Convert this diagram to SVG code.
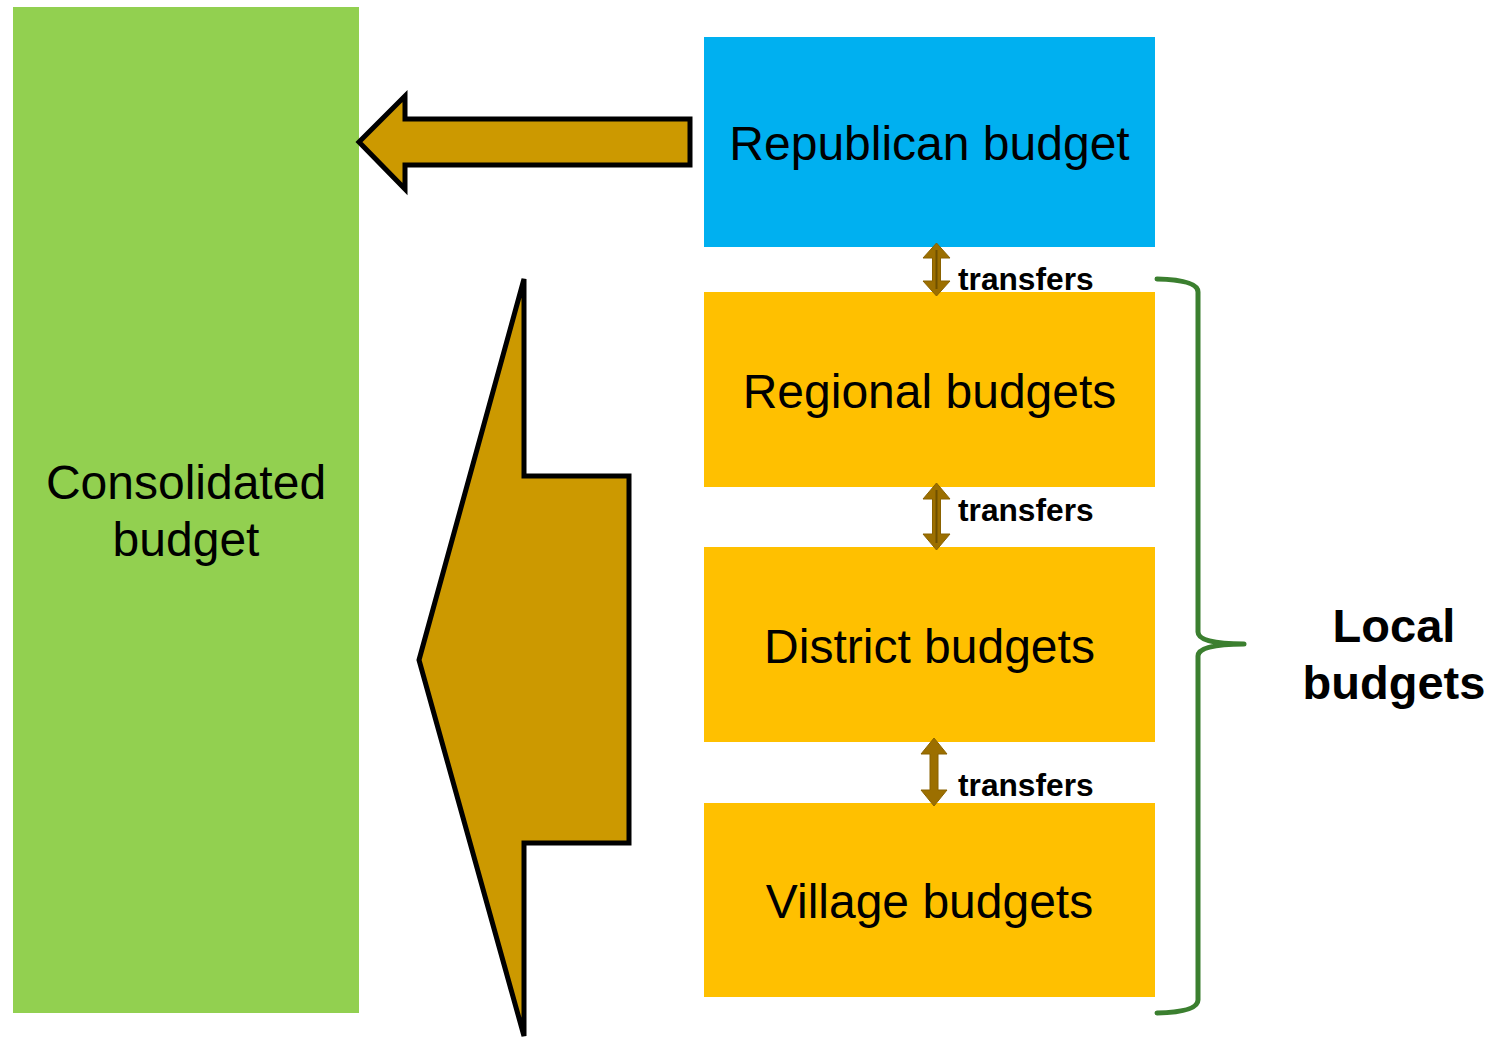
<svg xmlns="http://www.w3.org/2000/svg" width="1499" height="1040" viewBox="0 0 1499 1040">
<style>
.big{font-family:"Liberation Sans",Arial,sans-serif;font-size:48px;fill:#000;text-anchor:middle}
.bold{font-family:"Liberation Sans",Arial,sans-serif;font-size:47px;font-weight:bold;fill:#000;text-anchor:middle}
.tr{font-family:"Liberation Sans",Arial,sans-serif;font-size:31.7px;font-weight:bold;fill:#000}
.orange{fill:#FFC000}
.gold{fill:#CC9900;stroke:#000;stroke-width:5;stroke-linejoin:miter}
.dbl{fill:#9C6F00;stroke:#8A6200;stroke-width:1}
.brace{fill:none;stroke:#3B7F2F;stroke-width:5;stroke-linecap:round;stroke-linejoin:round}
</style>
<rect width="1499" height="1040" fill="#fff"/>
<g id="consolidated">
<rect x="13" y="7" width="346" height="1006" fill="#92D050"/>
<text class="big" x="186" y="499">Consolidated</text>
<text class="big" x="186" y="556">budget</text>
</g>
<g id="republican">
<rect x="704" y="37" width="451" height="210" fill="#00B0F0"/>
<text class="big" x="929.5" y="160">Republican budget</text>
</g>
<g id="regional">
<rect class="orange" x="704" y="292" width="451" height="195"/>
<text class="big" x="929.5" y="408">Regional budgets</text>
</g>
<g id="district">
<rect class="orange" x="704" y="547" width="451" height="195"/>
<text class="big" x="929.5" y="663">District budgets</text>
</g>
<g id="village">
<rect class="orange" x="704" y="803" width="451" height="194"/>
<text class="big" x="929.5" y="918">Village budgets</text>
</g>
<g id="local">
<text class="bold" x="1394" y="642">Local</text>
<text class="bold" x="1394" y="699">budgets</text>
</g>
<g id="connectors">
<polygon class="gold" points="359,142 405,96 405,119 690,119 690,165 405,165 405,189"/>
<polygon class="gold" points="419,660 524,279 524,476 629,476 629,843 524,843 524,1036"/>
<polygon class="dbl" points="936.5,243 950,258 940.5,258 940.5,281 950,281 936.5,296 923,281 932.5,281 932.5,258 923,258"/>
<line x1="936.5" y1="250" x2="936.5" y2="289" stroke="#6E5000" stroke-width="2"/>
<polygon class="dbl" points="936.5,483 950,499 940.5,499 940.5,534 950,534 936.5,550 923,534 932.5,534 932.5,499 923,499"/>
<line x1="936.5" y1="490" x2="936.5" y2="543" stroke="#6E5000" stroke-width="2"/>
<polygon class="dbl" points="934,738 947,754 938,754 938,790 947,790 934,806 921,790 930,790 930,754 921,754"/>
<text class="tr" x="958" y="290">transfers</text>
<text class="tr" x="958" y="521">transfers</text>
<text class="tr" x="958" y="796">transfers</text>
<path class="brace" d="M1157,279 Q1198,280 1198,292 L1198,632 Q1198,644 1244,644 Q1198,644 1198,656 L1198,1000 Q1198,1012 1157,1013"/>
</g>
</svg>
